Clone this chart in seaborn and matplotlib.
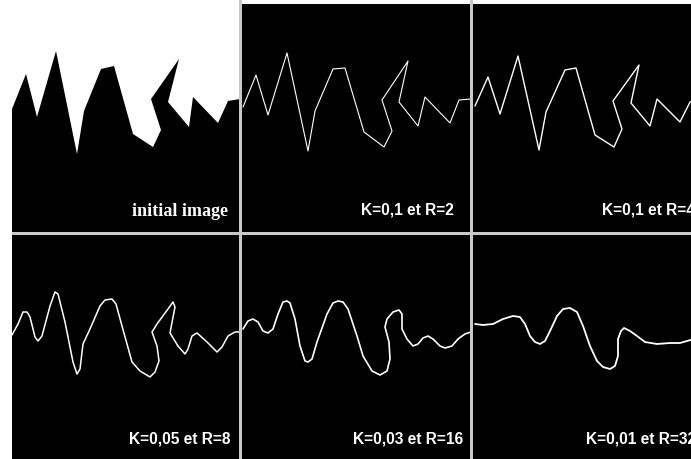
import matplotlib
matplotlib.use("Agg")
import matplotlib.pyplot as plt
from matplotlib.patches import Rectangle
import seaborn as sns

W, H = 691, 460

# Contour vertices, in image pixel units (x right, y down)
initial_x = [12, 26, 37, 56, 77, 84, 101, 114, 133, 153, 161, 151, 179, 168, 189, 193, 218, 228, 240]
initial_y = [110, 75, 118, 52, 155, 112, 70, 67, 135, 148, 131, 100, 60, 103, 128, 98, 124, 102, 100]

k01_r2_x = [243, 256, 268, 287, 308, 315, 333, 345, 364, 384, 392, 382, 408, 399, 418, 425, 450, 459, 471]
k01_r2_y = [108, 76, 116, 54, 152, 112, 70, 69, 133, 148, 132, 101, 62, 103, 127, 98, 124, 101, 100]

k01_r4_x = [475, 488, 500, 518, 539, 546, 565, 576, 595, 614, 622, 613, 639, 631, 650, 657, 680, 690, 701]
k01_r4_y = [107, 78, 115, 57, 151, 113, 71, 69, 136, 148, 130, 102, 66, 104, 127, 100, 123, 103, 101]

k005_r8_x = [12, 18, 23, 27, 30, 35, 38, 42, 50, 55, 58, 65, 73, 77, 80, 83, 90, 100, 105, 112,
             116, 122, 132, 140, 150, 155, 159, 157, 152, 157, 168, 173, 175, 170, 178, 185, 188,
             192, 197, 207, 217, 222, 228, 235, 240]
k005_r8_y = [336, 325, 313, 313, 318, 338, 342, 337, 307, 293, 295, 323, 363, 375, 370, 345, 330,
             307, 301, 300, 305, 327, 363, 372, 378, 373, 362, 347, 333, 325, 310, 303, 308, 334,
             347, 355, 350, 337, 334, 343, 353, 348, 337, 333, 333]

k003_r16_x = [243, 248, 253, 258, 263, 268, 273, 278, 283, 287, 290, 295, 300, 305, 308, 312, 317,
              327, 333, 338, 343, 348, 357, 363, 372, 380, 387, 390, 389, 385, 387, 393, 399, 402,
              402, 407, 413, 418, 423, 428, 433, 440, 445, 452, 458, 465, 471]
k003_r16_y = [330, 322, 320, 323, 332, 334, 330, 315, 303, 302, 304, 320, 347, 362, 363, 360, 343,
              315, 304, 302, 303, 310, 337, 357, 372, 376, 372, 360, 343, 328, 320, 313, 311, 315,
              330, 340, 347, 345, 339, 337, 340, 347, 349, 347, 340, 335, 333]

k001_r32_x = [475, 483, 493, 503, 513, 520, 525, 530, 535, 540, 545, 550, 557, 563, 570, 577, 583,
              590, 597, 603, 610, 615, 618, 618, 621, 624, 630, 637, 645, 657, 670, 680, 687, 701]
k001_r32_y = [325, 326, 325, 320, 317, 318, 325, 337, 343, 345, 342, 332, 317, 310, 309, 313, 327,
              347, 362, 368, 370, 367, 357, 340, 332, 329, 332, 337, 343, 345, 344, 344, 342, 338]

labels = ["initial image", "K=0,1 et R=2", "K=0,1 et R=4",
          "K=0,05 et R=8", "K=0,03 et R=16", "K=0,01 et R=32"]

sns.set_style("white")
fig = plt.figure(figsize=(W / 100, H / 100), dpi=100, facecolor="white")


def px_rect(x0, y0, x1, y1):
    return [x0 / W, 1 - y1 / H, (x1 - x0) / W, (y1 - y0) / H]


# light grey frame lines between the panels
grey = "#c9c9c9"
for (x0, y0, x1, y1) in [(12, 233, W, 236), (239, 0, 242, H), (470, 0, 473, H)]:
    fig.patches.append(Rectangle((x0 / W, 1 - y1 / H), (x1 - x0) / W, (y1 - y0) / H,
                                 transform=fig.transFigure, facecolor=grey,
                                 edgecolor="none", zorder=0))

cols = [(12, 239), (242, 470), (473, 701)]
rows = [(5, 233), (236, 460)]

panels = []
for r, (y0, y1) in enumerate(rows):
    for c, (x0, x1) in enumerate(cols):
        ax = fig.add_axes(px_rect(x0, y0, x1, y1))
        ax.set_facecolor("black")
        panels.append(ax)


def bare(ax, x0, y0, x1, y1):
    ax.set_xlim(x0, x1)
    ax.set_ylim(y1, y0)
    ax.set_xticks([])
    ax.set_yticks([])
    ax.set_xlabel("")
    ax.set_ylabel("")
    for s in ax.spines.values():
        s.set_visible(False)


# panel 1: the filled silhouette on a white ground
ax = panels[0]
ax.set_facecolor("white")
ax.fill(initial_x + [240, 12], initial_y + [233, 233], color="black", lw=0)
ax.text(132, 212, labels[0], color="white", fontsize=13, fontweight="bold",
        family=["Liberation Serif", "DejaVu Serif"], ha="left", va="center")
bare(ax, 12, 5, 239, 233)

curves = [
    (panels[1], k01_r2_x, k01_r2_y, 0.8, labels[1], 361, 210),
    (panels[2], k01_r4_x, k01_r4_y, 1.0, labels[2], 602, 210),
    (panels[3], k005_r8_x, k005_r8_y, 1.1, labels[3], 129, 439),
    (panels[4], k003_r16_x, k003_r16_y, 1.2, labels[4], 353, 439),
    (panels[5], k001_r32_x, k001_r32_y, 1.3, labels[5], 586, 439),
]
for i, (ax, xs, ys, lw, lab, tx, ty) in enumerate(curves, start=1):
    sns.lineplot(x=xs, y=ys, sort=False, estimator=None, color="white",
                 linewidth=lw, ax=ax)
    ax.text(tx, ty, lab, color="white", fontsize=11.2, fontweight="bold",
            family=["Liberation Sans", "DejaVu Sans"], ha="left", va="center")
    r, c = divmod(i, 3)
    bare(ax, cols[c][0], rows[r][0], cols[c][1], rows[r][1])

fig.savefig("out.png", dpi=100, facecolor="white")
